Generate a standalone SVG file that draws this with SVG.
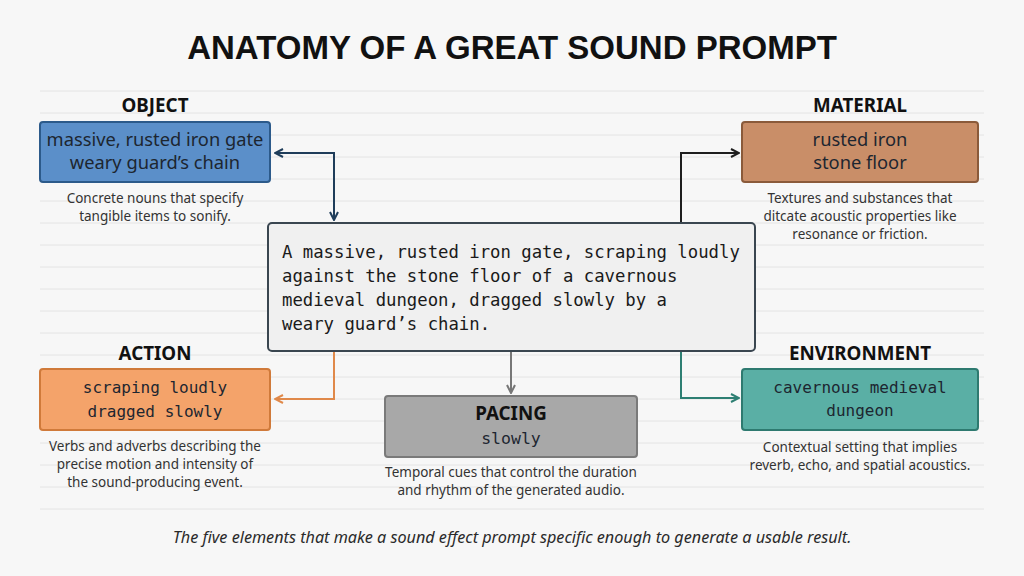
<svg xmlns="http://www.w3.org/2000/svg" width="1024" height="576" viewBox="0 0 1024 576">
<defs>
<style>
.title{font-family:"Liberation Sans",Arial,sans-serif;font-weight:bold;font-size:33px;fill:#111;text-anchor:middle}
.lbl{font-family:"Noto Sans","Liberation Sans",sans-serif;font-weight:bold;font-size:18.8px;fill:#111;text-anchor:middle}
.sans{font-family:"Noto Sans","Liberation Sans",sans-serif;font-size:18.3px;fill:#1d2630;text-anchor:middle}
.mono{font-family:"DejaVu Sans Mono","Liberation Mono",monospace;font-size:16px;fill:#1d2630;text-anchor:middle}
.desc{font-family:"Noto Sans","Liberation Sans",sans-serif;font-size:13.5px;fill:#333;text-anchor:middle}
.prompt{font-family:"DejaVu Sans Mono","Liberation Mono",monospace;font-size:17.3px;fill:#1a1a1a}
.cap{font-family:"Noto Sans","Liberation Sans",sans-serif;font-style:italic;font-size:16.2px;fill:#2a2a2a;text-anchor:middle}
.rule{stroke:#e4e4e4;stroke-width:1}
.conn{fill:none;stroke-width:2}
</style>
<marker id="aNavy" viewBox="0 0 10 10" refX="9" refY="5" markerWidth="10" markerHeight="10" markerUnits="userSpaceOnUse" orient="auto-start-reverse"><path d="M1,1 L9,5 L1,9" fill="none" stroke="#1f3d5a" stroke-width="2"/></marker>
<marker id="aBlack" viewBox="0 0 10 10" refX="9" refY="5" markerWidth="10" markerHeight="10" markerUnits="userSpaceOnUse" orient="auto"><path d="M1,1 L9,5 L1,9" fill="none" stroke="#1e1e1e" stroke-width="2"/></marker>
<marker id="aOrange" viewBox="0 0 10 10" refX="9" refY="5" markerWidth="10" markerHeight="10" markerUnits="userSpaceOnUse" orient="auto"><path d="M1,1 L9,5 L1,9" fill="none" stroke="#e0894a" stroke-width="2"/></marker>
<marker id="aGrey" viewBox="0 0 10 10" refX="9" refY="5" markerWidth="10" markerHeight="10" markerUnits="userSpaceOnUse" orient="auto"><path d="M1,1 L9,5 L1,9" fill="none" stroke="#777" stroke-width="2"/></marker>
<marker id="aTeal" viewBox="0 0 10 10" refX="9" refY="5" markerWidth="10" markerHeight="10" markerUnits="userSpaceOnUse" orient="auto"><path d="M1,1 L9,5 L1,9" fill="none" stroke="#2e7f73" stroke-width="2"/></marker>
</defs>
<rect width="1024" height="576" fill="#f7f7f7"/>
<g id="rules">
<line class="rule" x1="40" y1="91" x2="984" y2="91"/>
<line class="rule" x1="40" y1="113" x2="984" y2="113"/>
<line class="rule" x1="40" y1="135" x2="984" y2="135"/>
<line class="rule" x1="40" y1="157" x2="984" y2="157"/>
<line class="rule" x1="40" y1="179" x2="984" y2="179"/>
<line class="rule" x1="40" y1="201" x2="984" y2="201"/>
<line class="rule" x1="40" y1="223" x2="984" y2="223"/>
<line class="rule" x1="40" y1="245" x2="984" y2="245"/>
<line class="rule" x1="40" y1="267" x2="984" y2="267"/>
<line class="rule" x1="40" y1="289" x2="984" y2="289"/>
<line class="rule" x1="40" y1="311" x2="984" y2="311"/>
<line class="rule" x1="40" y1="333" x2="984" y2="333"/>
<line class="rule" x1="40" y1="355" x2="984" y2="355"/>
<line class="rule" x1="40" y1="377" x2="984" y2="377"/>
<line class="rule" x1="40" y1="399" x2="984" y2="399"/>
<line class="rule" x1="40" y1="421" x2="984" y2="421"/>
<line class="rule" x1="40" y1="443" x2="984" y2="443"/>
<line class="rule" x1="40" y1="465" x2="984" y2="465"/>
<line class="rule" x1="40" y1="487" x2="984" y2="487"/>
<line class="rule" x1="40" y1="509" x2="984" y2="509"/>
</g>
<text class="title" x="512" y="59">ANATOMY OF A GREAT SOUND PROMPT</text>

<g id="connectors">
<path class="conn" d="M275,153 H334 V220" stroke="#1f3d5a" marker-start="url(#aNavy)" marker-end="url(#aNavy)"/>
<path class="conn" d="M681,222 V153 H739" stroke="#1e1e1e" marker-end="url(#aBlack)"/>
<path class="conn" d="M334,352 V399 H275" stroke="#e0894a" marker-end="url(#aOrange)"/>
<path class="conn" d="M511,352 V393" stroke="#777" marker-end="url(#aGrey)"/>
<path class="conn" d="M681,352 V398 H739" stroke="#2e7f73" marker-end="url(#aTeal)"/>
</g>

<g id="prompt">
<rect x="268" y="223" width="487" height="128" rx="4" fill="#f0f0f0" stroke="#3a4650" stroke-width="2"/>
<text class="prompt" x="282" y="258">A massive, rusted iron gate, scraping loudly</text>
<text class="prompt" x="282" y="282">against the stone floor of a cavernous</text>
<text class="prompt" x="282" y="306">medieval dungeon, dragged slowly by a</text>
<text class="prompt" x="282" y="330">weary guard’s chain.</text>
</g>

<g id="object">
<text class="lbl" x="155" y="112">OBJECT</text>
<rect x="40" y="122" width="230" height="60" rx="3" fill="#5b8fc9" stroke="#2c5a8a" stroke-width="2"/>
<text class="sans" x="155" y="146">massive, rusted iron gate</text>
<text class="sans" x="155" y="169">weary guard’s chain</text>
<text class="desc" x="155" y="203">Concrete nouns that specify</text>
<text class="desc" x="155" y="221">tangible items to sonify.</text>
</g>

<g id="material">
<text class="lbl" x="860" y="112">MATERIAL</text>
<rect x="742" y="122" width="236" height="60" rx="3" fill="#c98e68" stroke="#8a5a3a" stroke-width="2"/>
<text class="sans" x="860" y="146">rusted iron</text>
<text class="sans" x="860" y="169">stone floor</text>
<text class="desc" x="860" y="203">Textures and substances that</text>
<text class="desc" x="860" y="221">ditcate acoustic properties like</text>
<text class="desc" x="860" y="239">resonance or friction.</text>
</g>

<g id="action">
<text class="lbl" x="155" y="360">ACTION</text>
<rect x="40" y="369" width="230" height="61" rx="3" fill="#f4a36a" stroke="#d07a3a" stroke-width="2"/>
<text class="mono" x="155" y="393">scraping loudly</text>
<text class="mono" x="155" y="417">dragged slowly</text>
<text class="desc" x="155" y="451">Verbs and adverbs describing the</text>
<text class="desc" x="155" y="469">precise motion and intensity of</text>
<text class="desc" x="155" y="487">the sound-producing event.</text>
</g>

<g id="pacing">
<rect x="385" y="396" width="252" height="61" rx="3" fill="#a8a8a8" stroke="#7a7a7a" stroke-width="2"/>
<text class="lbl" x="511" y="420">PACING</text>
<text class="mono" x="511" y="444" style="font-size:16.5px">slowly</text>
<text class="desc" x="511" y="477">Temporal cues that control the duration</text>
<text class="desc" x="511" y="495">and rhythm of the generated audio.</text>
</g>

<g id="environment">
<text class="lbl" x="860" y="360">ENVIRONMENT</text>
<rect x="742" y="369" width="236" height="61" rx="3" fill="#5aafa5" stroke="#2e7a70" stroke-width="2"/>
<text class="mono" x="860" y="393">cavernous medieval</text>
<text class="mono" x="860" y="416">dungeon</text>
<text class="desc" x="860" y="452">Contextual setting that implies</text>
<text class="desc" x="860" y="470">reverb, echo, and spatial acoustics.</text>
</g>

<text class="cap" x="512" y="543">The five elements that make a sound effect prompt specific enough to generate a usable result.</text>
</svg>
